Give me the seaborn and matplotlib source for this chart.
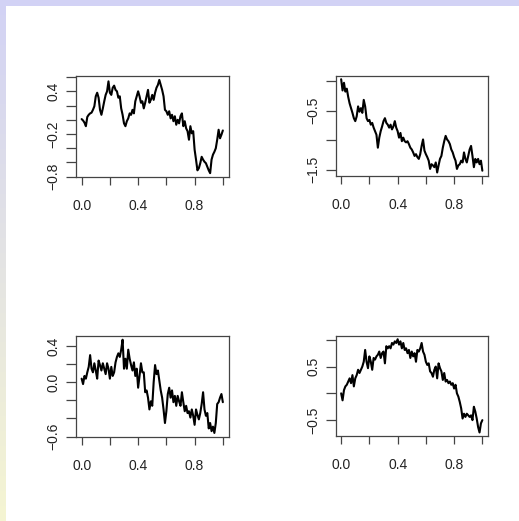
import numpy as np
import pandas as pd
import matplotlib
matplotlib.use("Agg")
import matplotlib.pyplot as plt
import seaborn as sns

# ---- data (one value per 0.01 of x) ----
series_tl = [0.01, -0.01, -0.04, -0.09, 0.04, 0.07, 0.09, 0.10, 0.14, 0.19,
             0.33, 0.38, 0.31, 0.14, 0.07, 0.16, 0.26, 0.35, 0.40, 0.54,
             0.38, 0.35, 0.45, 0.48, 0.42, 0.40, 0.31, 0.33, 0.16, 0.07,
             -0.05, -0.09, -0.02, 0.02, 0.09, 0.07, 0.14, 0.09, 0.26, 0.33,
             0.40, 0.33, 0.24, 0.26, 0.16, 0.24, 0.33, 0.42, 0.24, 0.28,
             0.35, 0.28, 0.38, 0.45, 0.49, 0.56, 0.49, 0.42, 0.33, 0.14,
             0.12, 0.07, 0.12, 0.02, 0.07, -0.02, 0.05, -0.07, 0.00, -0.05,
             0.05, 0.09, -0.09, -0.02, -0.12, -0.16, -0.28, -0.09, -0.19, -0.16,
             -0.42, -0.56, -0.71, -0.68, -0.61, -0.52, -0.56, -0.59, -0.61, -0.66,
             -0.71, -0.75, -0.56, -0.49, -0.45, -0.40, -0.28, -0.14, -0.26, -0.21,
             -0.15]

series_tr = [0.03, -0.16, -0.03, -0.18, -0.13, -0.27, -0.38, -0.46, -0.54, -0.63,
             -0.68, -0.60, -0.43, -0.52, -0.46, -0.54, -0.32, -0.43, -0.63, -0.68,
             -0.66, -0.74, -0.71, -0.79, -0.85, -0.91, -1.13, -0.96, -0.85, -0.77,
             -0.68, -0.63, -0.71, -0.74, -0.79, -0.74, -0.82, -0.77, -0.68, -0.79,
             -0.85, -0.96, -0.88, -1.02, -0.96, -1.02, -1.04, -1.02, -1.07, -1.13,
             -1.16, -1.21, -1.27, -1.24, -1.29, -1.32, -1.24, -1.10, -0.99, -1.18,
             -1.24, -1.29, -1.35, -1.49, -1.41, -1.43, -1.46, -1.38, -1.55, -1.43,
             -1.32, -1.27, -1.13, -1.02, -0.93, -0.99, -1.02, -1.07, -1.16, -1.21,
             -1.29, -1.35, -1.49, -1.43, -1.41, -1.35, -1.38, -1.21, -1.32, -1.38,
             -1.27, -1.16, -1.10, -1.27, -1.46, -1.32, -1.38, -1.32, -1.41, -1.35,
             -1.52]

series_bl = [0.04, -0.02, 0.07, 0.04, 0.11, 0.17, 0.30, 0.15, 0.11, 0.21,
             0.13, 0.04, 0.24, 0.19, 0.13, 0.21, 0.15, 0.09, 0.21, 0.15,
             0.04, 0.17, 0.07, 0.11, 0.22, 0.28, 0.32, 0.28, 0.36, 0.47,
             0.15, 0.26, 0.15, 0.36, 0.26, 0.19, 0.13, 0.22, 0.07, 0.15,
             -0.06, 0.07, 0.21, 0.11, 0.11, -0.11, -0.09, -0.17, -0.30, -0.21,
             -0.26, 0.00, 0.19, 0.09, 0.13, 0.02, -0.09, -0.17, -0.30, -0.45,
             -0.32, -0.13, -0.06, -0.17, -0.09, -0.22, -0.15, -0.26, -0.15, -0.21,
             -0.26, -0.11, -0.22, -0.32, -0.26, -0.34, -0.32, -0.39, -0.30, -0.37,
             -0.47, -0.30, -0.36, -0.41, -0.34, -0.24, -0.11, -0.30, -0.37, -0.34,
             -0.51, -0.45, -0.54, -0.49, -0.56, -0.45, -0.24, -0.22, -0.17, -0.13,
             -0.22]

series_br = [0.00, -0.13, 0.06, 0.13, 0.16, 0.22, 0.28, 0.19, 0.34, 0.13,
             0.28, 0.34, 0.44, 0.38, 0.44, 0.50, 0.59, 0.81, 0.59, 0.47,
             0.69, 0.59, 0.44, 0.66, 0.63, 0.69, 0.72, 0.78, 0.66, 0.75,
             0.78, 0.56, 0.88, 0.84, 0.88, 0.84, 0.94, 0.91, 0.97, 0.94,
             1.01, 0.91, 0.97, 0.84, 0.94, 0.81, 0.84, 0.75, 0.81, 0.66,
             0.78, 0.69, 0.75, 0.59, 0.81, 0.78, 0.84, 0.94, 0.78, 0.72,
             0.59, 0.53, 0.56, 0.41, 0.38, 0.31, 0.44, 0.50, 0.28, 0.56,
             0.47, 0.41, 0.25, 0.38, 0.22, 0.25, 0.19, 0.22, 0.16, 0.19,
             0.09, 0.16, 0.00, -0.06, -0.16, -0.28, -0.47, -0.38, -0.44, -0.38,
             -0.41, -0.44, -0.41, -0.50, -0.25, -0.34, -0.47, -0.63, -0.73, -0.56,
             -0.50]

x_ticks = [0.0, 0.2, 0.4, 0.6, 0.8, 1.0]
x_labels = ["0.0", "", "0.4", "", "0.8", ""]

y_ticks_tl = [-0.8, -0.6, -0.4, -0.2, 0.0, 0.2, 0.4, 0.6]
y_labels_tl = ["\u22120.8", "", "", "\u22120.2", "", "", "0.4", ""]
y_ticks_tr = [-1.5, -1.0, -0.5, 0.0]
y_labels_tr = ["\u22121.5", "", "\u22120.5", ""]
y_ticks_bl = [-0.6, -0.4, -0.2, 0.0, 0.2, 0.4]
y_labels_bl = ["\u22120.6", "", "", "0.0", "", "0.4"]
y_ticks_br = [-0.5, 0.0, 0.5, 1.0]
y_labels_br = ["\u22120.5", "", "0.5", ""]

# ---- style ----
sns.set_theme(style="white")
plt.rcParams["font.family"] = ["Liberation Sans", "DejaVu Sans"]

W_PX, H_PX = 519, 521
fig = plt.figure(figsize=(W_PX / 100, H_PX / 100), dpi=100)
fig.patch.set_facecolor("white")

# background: lavender strip on top, gradient strip on the left
bg = np.ones((H_PX, W_PX, 3))
lav = np.array([210, 210, 245]) / 255.0
yel = np.array([245, 245, 210]) / 255.0
t = np.linspace(0, 1, H_PX)[:, None]
grad = lav[None, :] * (1 - t) + yel[None, :] * t
bg[:, :6, :] = grad[:, None, :]
bg[:6, :, :] = lav
bax = fig.add_axes([0, 0, 1, 1], zorder=-10)
bax.imshow(bg, aspect="auto", interpolation="nearest")
bax.set_axis_off()

panels = [
    (series_tl, y_ticks_tl, y_labels_tl, 76.0, 76.2),
    (series_tr, y_ticks_tr, y_labels_tr, 335.5, 75.5),
    (series_bl, y_ticks_bl, y_labels_bl, 76.0, 336.0),
    (series_br, y_ticks_br, y_labels_br, 335.5, 335.5),
]
AX_W, AX_H = 152.5, 100.7

box_col = "#444444"
txt_col = "#222222"

for vals, yt, yl, L, T in panels:
    vals = np.asarray(vals)
    df = pd.DataFrame({"x": np.linspace(0, 1, len(vals)), "y": vals})
    ax = fig.add_axes([L / W_PX, 1 - (T + AX_H) / H_PX, AX_W / W_PX, AX_H / H_PX])
    sns.lineplot(data=df, x="x", y="y", ax=ax, color="black", lw=1.5,
                 estimator=None, sort=False)
    lo, hi = vals.min(), vals.max()
    d = hi - lo
    ax.set_ylim(lo - 0.04 * d, hi + 0.04 * d)
    ax.set_xlim(-0.04, 1.04)
    ax.set_xticks(x_ticks)
    ax.set_xticklabels(x_labels)
    ax.set_yticks(yt)
    ax.set_yticklabels(yl, rotation=90, va="center")
    ax.set_xlabel("")
    ax.set_ylabel("")
    ax.set_facecolor("none")
    for sp in ax.spines.values():
        sp.set_visible(True)
        sp.set_color(box_col)
        sp.set_linewidth(0.9)
    ax.tick_params(axis="x", direction="out", length=6, width=0.9, color=box_col,
                   labelsize=10, labelcolor=txt_col, pad=10, bottom=True)
    ax.tick_params(axis="y", direction="out", length=7, width=0.9, color=box_col,
                   labelsize=10, labelcolor=txt_col, pad=4, left=True)

fig.savefig("out.png", dpi=100)
